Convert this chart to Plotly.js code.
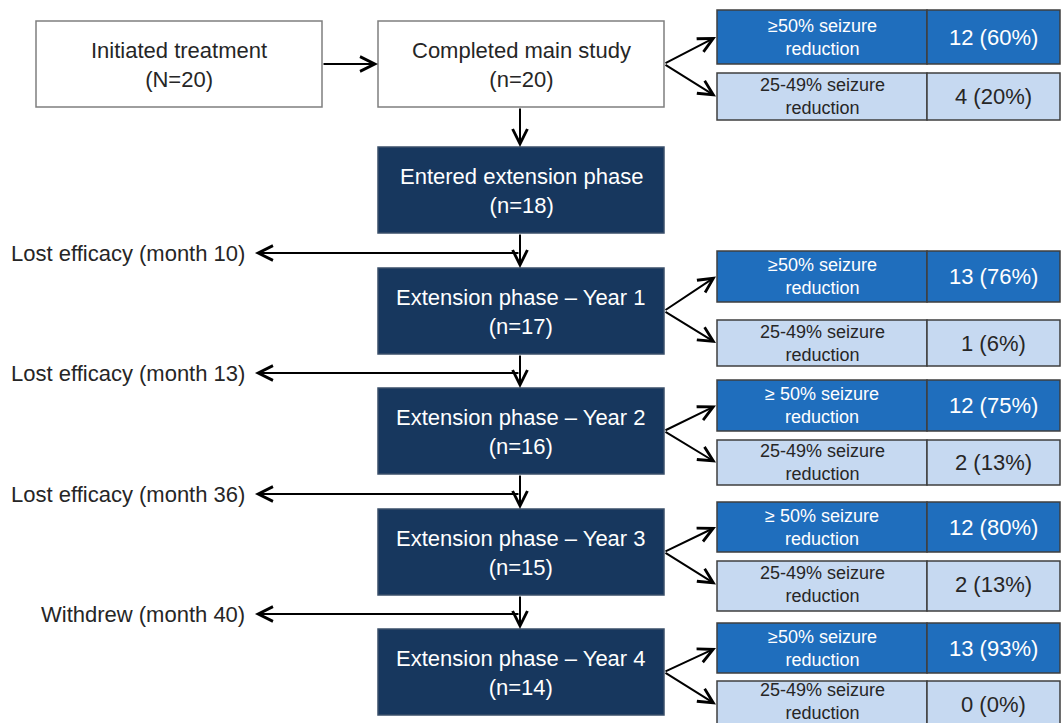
<!DOCTYPE html>
<html>
<head>
<meta charset="utf-8">
<script src="https://cdn.plot.ly/plotly-3.0.1.min.js"></script>
<style>html,body{margin:0;padding:0;background:#fff;}#chart{width:1064px;height:723px;}</style>
</head>
<body>
<div id="chart"></div>
<script>
// ---- data ----
const stageLabels = ['Initiated treatment', 'Completed main study', 'Entered extension phase',
  'Extension phase \u2013 Year 1', 'Extension phase \u2013 Year 2', 'Extension phase \u2013 Year 3', 'Extension phase \u2013 Year 4'];
const stageN = ['N=20', 'n=20', 'n=18', 'n=17', 'n=16', 'n=15', 'n=14'];
const dropLabels = ['Lost efficacy (month 10)', 'Lost efficacy (month 13)', 'Lost efficacy (month 36)', 'Withdrew (month 40)'];
const highLabels = ['\u226550% seizure', '\u226550% seizure', '\u2265 50% seizure', '\u2265 50% seizure', '\u226550% seizure'];
const highCounts = [12, 13, 12, 12, 13];
const highPct = [60, 76, 75, 80, 93];
const lowLabels = ['25-49% seizure', '25-49% seizure', '25-49% seizure', '25-49% seizure', '25-49% seizure'];
const lowCounts = [4, 1, 2, 2, 0];
const lowPct = [20, 6, 13, 13, 0];

// ---- layout geometry (pixels) ----
const stageBoxes = [
  [36, 322, 21, 107], [378, 664, 21, 107], [378, 664, 147, 233],
  [378, 664, 268, 354], [378, 664, 388, 474], [378, 664, 509, 595], [378, 664, 629, 715]
];
const outcomeSource = [1, 3, 4, 5, 6];
const topRows = [[10, 64], [251, 302], [380, 431], [502, 552], [623, 673]];
const botRows = [[73, 120], [320, 366], [440, 485], [561, 611], [681, 730]];
const dropY = [253, 373, 494, 614];
const OX0 = 717, OXD = 927, OX1 = 1060;
const NAVY = '#17375E', MID = '#1F6EBD', LIGHT = '#C6D9F1', TXT = '#262626';
const FONT = 'Liberation Sans, Arial, sans-serif';

const shapes = [];
const ann = [];

function rect(x0, x1, y0, y1, fill, lc) {
  shapes.push({type: 'rect', xref: 'x', yref: 'y', x0: x0, x1: x1, y0: y0, y1: y1,
    fillcolor: fill, line: {color: lc, width: 1.5}, layer: 'below'});
}
function text(x, y, t, size, color, xanchor) {
  ann.push({x: x, y: y, xref: 'x', yref: 'y', text: t, showarrow: false,
    xanchor: xanchor || 'center', yanchor: 'middle', align: xanchor === 'right' ? 'right' : 'center',
    font: {family: FONT, size: size, color: color}});
}
function arrow(x0, y0, x1, y1) {
  ann.push({x: x1, y: y1, ax: x0, ay: y0, xref: 'x', yref: 'y', axref: 'x', ayref: 'y',
    text: '', showarrow: true, arrowhead: 5, arrowsize: 1.45, arrowwidth: 2, arrowcolor: '#000', standoff: 0});
}

// stage boxes
stageBoxes.forEach(function (b, i) {
  const dark = i >= 2;
  rect(b[0], b[1], b[2], b[3], dark ? NAVY : '#FFFFFF', dark ? '#3a4f6a' : '#7F7F7F');
  text((b[0] + b[1]) / 2, (b[2] + b[3]) / 2 + 1, stageLabels[i] + '<br>(' + stageN[i] + ')', 22, dark ? '#FFFFFF' : TXT);
});

// connectors between stages
arrow(stageBoxes[0][1], 64, stageBoxes[1][0], 64);
const cx = 520;
arrow(cx, stageBoxes[1][3], cx, stageBoxes[2][2]);
for (let k = 0; k < dropLabels.length; k++) {
  const a = stageBoxes[k + 2], b = stageBoxes[k + 3];
  arrow(cx, a[3], cx, b[2]);
  arrow(cx, dropY[k], 255, dropY[k]);
  text(247, dropY[k], dropLabels[k], 22, TXT, 'right');
}

// outcome boxes
outcomeSource.forEach(function (si, j) {
  const b = stageBoxes[si];
  const my = (b[2] + b[3]) / 2;
  const t = topRows[j], d = botRows[j];
  rect(OX0, OXD, t[0], t[1], MID, '#3F3F3F');
  rect(OXD, OX1, t[0], t[1], MID, '#3F3F3F');
  rect(OX0, OXD, d[0], d[1], LIGHT, '#3F3F3F');
  rect(OXD, OX1, d[0], d[1], LIGHT, '#3F3F3F');
  const ty = (t[0] + t[1]) / 2, dy = (d[0] + Math.min(d[1], d[0] + 47)) / 2;
  const dyText = d[1] > 723 ? dy - 3 : dy;
  text((OX0 + OXD) / 2, ty, highLabels[j] + '<br>reduction', 18, '#FFFFFF');
  text((OXD + OX1) / 2, ty, highCounts[j] + ' (' + highPct[j] + '%)', 22, '#FFFFFF');
  text((OX0 + OXD) / 2, dyText, lowLabels[j] + '<br>reduction', 18, TXT);
  text((OXD + OX1) / 2, dy, lowCounts[j] + ' (' + lowPct[j] + '%)', 22, TXT);
  arrow(b[1], my, OX0 - 1, ty);
  arrow(b[1], my, OX0 - 1, dy);
});

const layout = {
  width: 1064, height: 723,
  margin: {l: 0, r: 0, t: 0, b: 0},
  paper_bgcolor: '#FFFFFF', plot_bgcolor: '#FFFFFF',
  xaxis: {range: [0, 1064], visible: false, fixedrange: true},
  yaxis: {range: [723, 0], visible: false, fixedrange: true},
  shapes: shapes, annotations: ann, showlegend: false
};
Plotly.newPlot('chart', [], layout, {displayModeBar: false, staticPlot: true});
</script>
</body>
</html>
